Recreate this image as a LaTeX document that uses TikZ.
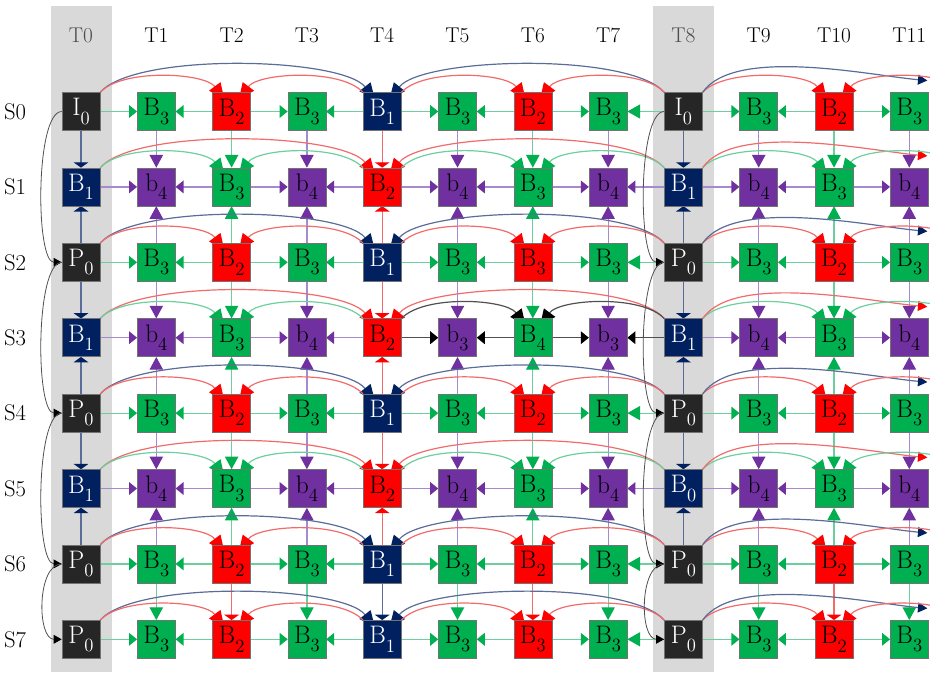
\documentclass[tikz,border=0pt]{standalone}
\usetikzlibrary{arrows.meta,calc}
\definecolor{Lg}{HTML}{6DCF9E}
\definecolor{Ag}{HTML}{00B050}
\definecolor{Lp}{HTML}{A68AD0}
\definecolor{Ap}{HTML}{7030A0}
\definecolor{Lr}{HTML}{F26B6B}
\definecolor{Ar}{HTML}{FF0000}
\definecolor{Ln}{HTML}{5A6C98}
\definecolor{An}{HTML}{002060}
\definecolor{Lk}{HTML}{505050}
\definecolor{Ak}{HTML}{000000}
\definecolor{Fk}{HTML}{262626}
\definecolor{colgray}{HTML}{D9D9D9}
\pgfdeclarelayer{bg}
\pgfdeclarelayer{edges}
\pgfsetlayers{bg,edges,main}
\newcommand{\lb}[2]{#1\raisebox{-0.32em}{\fontsize{14}{14}\selectfont #2}}
\tikzset{
  box/.style={draw=black!55, line width=0.4pt, minimum size=28.5pt, inner sep=0pt, font=\fontsize{19}{19}\selectfont},
  boxk/.style={fill=Fk, text=white},
  boxn/.style={fill=An, text=white},
  boxr/.style={fill=Ar, text=black},
  boxg/.style={fill=Ag, text=black},
  boxp/.style={fill=Ap, text=black},
  hedge/.style={draw=L#1, line width=0.9pt, -{Triangle[length=6pt,width=9.5pt,color=A#1]}},
  hbig/.style={draw=L#1, line width=0.9pt, -{Triangle[length=9.5pt,width=10.5pt,color=A#1]}},
  vtall/.style={draw=L#1, line width=0.9pt, -{Triangle[length=9.5pt,width=10pt,color=A#1]}},
  vflat/.style={draw=L#1, line width=0.9pt, -{Triangle[length=4pt,width=11pt,color=A#1]}},
  arcedge/.style={draw=L#1, line width=0.9pt, -{Triangle[length=12pt,width=10.5pt,color=A#1]}},
  redge/.style={draw=L#1, line width=0.9pt, -{Triangle[length=7pt,width=7.5pt,color=A#1]}},
  curv/.style={draw=Lk, line width=0.6pt, -{Triangle[length=6pt,width=6.5pt,color=Ak]}},
  tlab/.style={font=\fontsize{16}{16}\selectfont, inner sep=0pt},
  slab/.style={font=\fontsize{17}{17}\selectfont, inner sep=0pt},
}
\begin{document}
\begin{tikzpicture}[x=0.75pt,y=0.75pt]
\useasboundingbox (0,0) rectangle (930,-672);
\begin{pgfonlayer}{bg}
  \fill[colgray] (51,-6) rectangle (112,-672);
  \fill[colgray] (653,-6) rectangle (714,-672);
\end{pgfonlayer}
% column and row labels
\foreach \i in {0,...,11}{
  \pgfmathsetmacro\xx{81+75.3*\i}
  \ifnum\i=0 \def\tc{black!70}\else\ifnum\i=8 \def\tc{black!70}\else\def\tc{black}\fi\fi
  \node[tlab, text=\tc] (t\i) at (\xx,-35) {T\i};
}
\foreach \j in {0,...,7}{
  \pgfmathsetmacro\yy{-111.5-75.4*\j}
  \node[slab] (s\j) at (15,\yy) {S\j};
}
% boxes
\foreach \row [count=\j from 0] in {
 {k/I/0,g/B/3,r/B/2,g/B/3,n/B/1,g/B/3,r/B/2,g/B/3,k/I/0,g/B/3,r/B/2,g/B/3},
 {n/B/1,p/b/4,g/B/3,p/b/4,r/B/2,p/b/4,g/B/3,p/b/4,n/B/1,p/b/4,g/B/3,p/b/4},
 {k/P/0,g/B/3,r/B/2,g/B/3,n/B/1,g/B/3,r/B/3,g/B/3,k/P/0,g/B/3,r/B/2,g/B/3},
 {n/B/1,p/b/4,g/B/3,p/b/4,r/B/2,p/b/3,g/B/4,p/b/3,n/B/1,p/b/4,g/B/3,p/b/4},
 {k/P/0,g/B/3,r/B/2,g/B/3,n/B/1,g/B/3,r/B/2,g/B/3,k/P/0,g/B/3,r/B/2,g/B/3},
 {n/B/1,p/b/4,g/B/3,p/b/4,r/B/2,p/b/4,g/B/3,p/b/4,n/B/0,p/b/4,g/B/3,p/b/4},
 {k/P/0,g/B/3,r/B/2,g/B/3,n/B/1,g/B/3,r/B/2,g/B/3,k/P/0,g/B/3,r/B/2,g/B/3},
 {k/P/0,g/B/3,r/B/2,g/B/3,n/B/1,g/B/3,r/B/3,g/B/3,k/P/0,g/B/3,r/B/2,g/B/3}}{
  \foreach \ty/\ltr/\sbs [count=\i from 0] in \row {
    \pgfmathsetmacro\xx{81+75.3*\i}
    \pgfmathsetmacro\yy{-111.5-75.4*\j}
    \edef\mytmp{\noexpand\node[box,box\ty] (n-\j-\i) at (\xx,\yy) {\noexpand\lb{\ltr}{\sbs}};}\mytmp
    \expandafter\xdef\csname ty-\j-\i\endcsname{\ty}
  }
}
\begin{pgfonlayer}{edges}
\begin{scope}
\clip (0,0) rectangle (930,-672);
% horizontal
\foreach \j in {0,...,7}{
  \foreach \src/\dst in {0/1,2/1,2/3,4/3,4/5,6/5,6/7,8/7,8/9,10/9,10/11}{
    \edef\tyy{\csname ty-\j-\dst\endcsname}%
    \ifnum\j=3 \ifnum\dst>4 \ifnum\dst<8 \def\tyy{k}\fi\fi\fi
    \def\hs{hedge}%
    \ifnum\src=8 \ifnum\dst=7 \if g\tyy \def\hs{hbig}\fi\fi\fi
    \edef\mytmp{\noexpand\draw[\hs=\tyy] (n-\j-\src) -- (n-\j-\dst);}\mytmp
  }
}
% vertical
\foreach \i in {0,...,11}{
  \foreach \src/\dst in {0/1,2/1,2/3,4/3,4/5,6/5,6/7}{
    \edef\tyy{\csname ty-\dst-\i\endcsname}%
    \if k\tyy\else
      \def\vsty{vtall}\if r\tyy\def\vsty{vflat}\fi\if n\tyy\def\vsty{vflat}\fi
      \edef\mytmp{\noexpand\draw[\vsty=\tyy] (n-\src-\i) -- (n-\dst-\i);}\mytmp
    \fi
  }
}
% arcs above rows
\foreach \j in {0,...,7}{
  \foreach \src/\dst/\lo in {0/4/0.5,8/4/0.5,0/2/0.68,4/2/0.68,4/6/0.68,8/6/0.68,8/10/0.68}{
    \edef\tyy{\csname ty-\j-\dst\endcsname}%
    \ifnum\j=3 \ifnum\dst=6 \def\tyy{k}\fi\fi
    \ifnum\dst>\src
      \edef\mytmp{\noexpand\draw[arcedge=\tyy] (n-\j-\src.north east) to[bend left=50,looseness=\lo] ($(n-\j-\dst.north west)+(12,-7)$);}%
    \else
      \edef\mytmp{\noexpand\draw[arcedge=\tyy] (n-\j-\src.north west) to[bend right=50,looseness=\lo] ($(n-\j-\dst.north east)+(-12,-7)$);}%
    \fi
    \mytmp
  }
  \edef\tyy{\csname ty-\j-4\endcsname}%
  \edef\mytmp{\noexpand\draw[redge=\tyy] (n-\j-8.north east) to[out=55,in=175,looseness=0.64] ($(n-\j-11.center)+(18,31)$);}\mytmp
  \edef\tyy{\csname ty-\j-10\endcsname}%
  \edef\mytmp{\noexpand\draw[arcedge=\tyy] ($(n-\j-11.north west)+(75.3,0)$) to[bend right=50,looseness=0.68] ($(n-\j-10.north east)+(-12,-7)$);}\mytmp
}
% left curved links
\foreach \colk in {0,8}{
  \foreach \src/\dst/\lo in {0/2/0.45,2/4/0.45,4/6/0.45,6/7/0.85}{
    \draw[curv] (n-\src-\colk.west) to[out=180,in=180,looseness=\lo] (n-\dst-\colk.west);
  }
}
\end{scope}
\end{pgfonlayer}
\end{tikzpicture}
\end{document}
